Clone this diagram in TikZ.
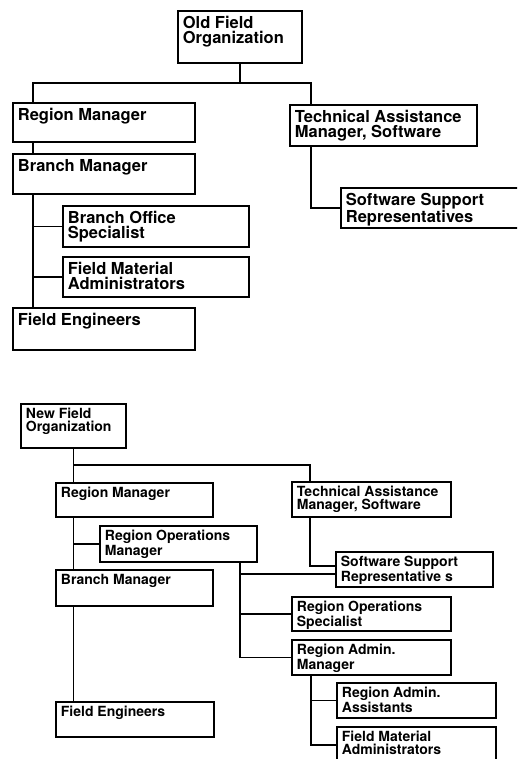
\documentclass[tikz,border=0pt]{standalone}
\usepackage{fontspec}
\setmainfont{TeX Gyre Heros}
\usetikzlibrary{calc}
\def\unitbox[#1](#2)(#3,#4)(#5,#6)#7{\node[post,minimum width={(#5-#3)*1pt},minimum height={(#6-#4)*1pt},label={[#1]north west:#7}] (#2) at (#3,#4) {};}

\begin{document}
\begin{tikzpicture}[x=1pt,y=-1pt,line width=1.8pt,
	post/.style={draw,anchor=north west,inner sep=0pt,outer sep=0pt},
	oldtext/.style={anchor=north west,align=left,inner xsep=4pt,inner ysep=4.5pt,font=\fontsize{16.5}{15}\selectfont\bfseries},
	newtext/.style={anchor=north west,align=left,inner xsep=4pt,inner ysep=3.5pt,font=\fontsize{14}{13}\selectfont\bfseries}]
		\useasboundingbox (0,0) rectangle (517,759);
		\clip (0,0) rectangle (517,759);
		%%%%% OLD %%%%%
		\unitbox[oldtext](old)(178,11)(302,63){Old Field\\Organization}
		\unitbox[oldtext](rm)(13,103)(195,142){Region Manager}
		\unitbox[oldtext](bm)(13,154)(195,194){Branch Manager}
		\unitbox[oldtext](bos)(63,206)(249,247){Branch Office\\Specialist}
		\unitbox[oldtext](fma)(63,257)(249,297){Field Material\\Administrators}
		\unitbox[oldtext](fe)(13,308)(195,350){Field Engineers}
		\unitbox[oldtext](tam)(290,105)(477,146){Technical Assistance\\Manager, Software}
		\unitbox[oldtext](ssr)(341,188)(530,228){Software Support\\Representatives}
		
		\draw (old.south) -- ++(0,20) coordinate (oldjoin);
		\draw ($(rm.north west)+(20,0)$) |- (oldjoin) -| ($(tam.north west)+(21,0)$);
		\draw ($(rm.south west)+(20,0)$) -- ($(bm.north west)+(20,0)$);
		\draw ($(bm.south west)+(20,0)$) coordinate (bmtrunk) -- ($(fe.north west)+(20,0)$);
		\draw (bos.west) -- (bos.west -| bmtrunk);
		\draw (fma.west) -- (fma.west -| bmtrunk);
		\draw ($(tam.south west)+(21,0)$) |- (ssr.west);
		
		%%%%% NEW %%%%%
		\unitbox[newtext](nfo)(21,404)(126,448){New Field\\Organization}
		\unitbox[newtext](nrm)(56,483)(213,517){Region Manager}
		\unitbox[newtext](nrom)(100,526)(257,562){Region Operations\\Manager}
		\unitbox[newtext](nbm)(56,570)(213,606){Branch Manager}
		\unitbox[newtext](nfe)(56,702)(214,737){Field Engineers}
		\unitbox[newtext](ntam)(292,482)(451,517){Technical Assistance\\Manager, Software}
		\unitbox[newtext](nssr)(336,552)(493,587){Software Support\\Representative s}
		\unitbox[newtext](nros)(292,597)(451,631){Region Operations\\Specialist}
		\unitbox[newtext](nram)(292,640)(451,675){Region Admin.\\Manager}
		\unitbox[newtext](nraa)(337,683)(496,718){Region Admin.\\Assistants}
		\unitbox[newtext](nfma)(337,727)(496,763){Field Material\\Administrators}
		
		\draw (nfo.south) coordinate (ntrunk) -- (ntrunk |- nrm.north);
		\draw ($(nfo.south)+(0,17)$) -| ($(ntam.north west)+(18,0)$);
		\draw (nrm.south -| ntrunk) -- (nbm.north -| ntrunk);
		\draw (nrom.west) -- (nrom.west -| ntrunk);
		\draw (nbm.south -| ntrunk) -- (nfe.north -| ntrunk);
		
		\draw ($(nrom.south west)+(140,0)$) coordinate (romtrunk) |- (nram.west);
		\coordinate (ssrlow) at ($(nssr.west)+(0,4.5)$);
		\coordinate (ssrhigh) at ($(nssr.west)+(0,-3.5)$);
		\draw (ssrlow) -- (ssrlow -| romtrunk);
		\draw (nros.west) -- (nros.west -| romtrunk);
		\draw ($(ntam.south west)+(18,0)$) |- (ssrhigh);
		
		\draw ($(nram.south west)+(19,0)$) coordinate (ramtrunk) |- (nfma.west);
		\draw (nraa.west) -- (nraa.west -| ramtrunk);
		%%%%% END %%%%%
	\end{tikzpicture}
\end{document}
